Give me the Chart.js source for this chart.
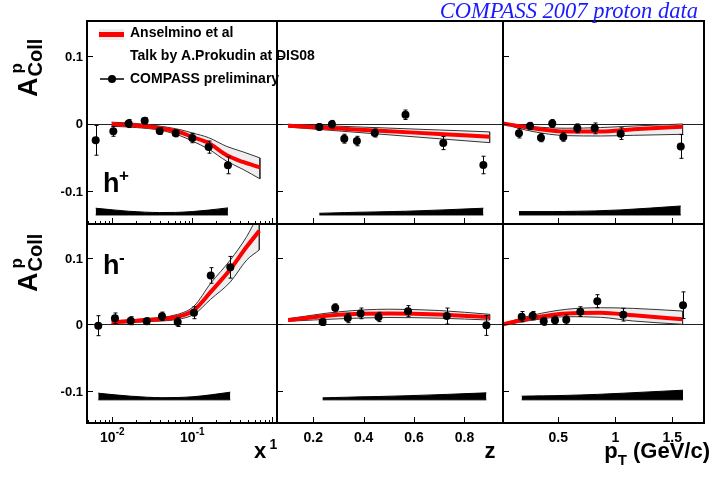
<!DOCTYPE html>
<html>
<head>
<meta charset="utf-8">
<script src="https://cdn.jsdelivr.net/npm/chart.js@4.4.0/dist/chart.umd.min.js"></script>
<style>
  html, body { margin: 0; padding: 0; background: #fff; }
  #wrap { position: relative; width: 712px; height: 493px; overflow: hidden; }
  #wrap canvas { position: absolute; left: 0; top: 0; }
</style>
</head>
<body>
<div id="wrap"></div>
<script>
// ---------- x dependence ----------
const xPlusX   = [0.0062, 0.0103, 0.016, 0.0254, 0.0391, 0.062, 0.100, 0.160, 0.279];
const xPlusA   = [-0.025, -0.0116, 0.000, 0.004, -0.011, -0.0146, -0.0215, -0.035, -0.062];
const xPlusErr = [0.022, 0.0073, 0.006, 0.005, 0.005, 0.005, 0.007, 0.009, 0.0125];
const xPlusSys = [0.010, 0.0075, 0.0055, 0.0042, 0.0036, 0.0038, 0.005, 0.0072, 0.0105];

const xMinusX   = [0.00668, 0.0108, 0.017, 0.0269, 0.0418, 0.0657, 0.105, 0.170, 0.2985];
const xMinusA   = [-0.0018, 0.0093, 0.0057, 0.005, 0.0123, 0.0037, 0.0177, 0.0737, 0.086];
const xMinusErr = [0.015, 0.008, 0.006, 0.005, 0.0063, 0.0067, 0.009, 0.0117, 0.0163];
const xMinusSys = [0.010, 0.0075, 0.0055, 0.004, 0.0032, 0.0035, 0.0048, 0.0075, 0.0115];

// theory (Anselmino et al) vs x
const thXPlusX  = [0.0098, 0.02, 0.04, 0.07, 0.10, 0.16, 0.27, 0.43, 0.70];
const thXPlusC  = [-0.001, -0.003, -0.007, -0.013, -0.020, -0.029, -0.047, -0.057, -0.065];
const thXPlusUp = [0.002, 0.000, -0.004, -0.009, -0.014, -0.021, -0.034, -0.042, -0.051];
const thXPlusLo = [-0.004, -0.006, -0.010, -0.018, -0.026, -0.038, -0.056, -0.068, -0.082];

const thXMinusX  = [0.0098, 0.027, 0.0657, 0.105, 0.170, 0.299, 0.478, 0.688];
const thXMinusC  = [0.0033, 0.0067, 0.0117, 0.0217, 0.049, 0.083, 0.1167, 0.1407];
const thXMinusUp = [0.0053, 0.0087, 0.0153, 0.0277, 0.062, 0.097, 0.132, 0.168];
const thXMinusLo = [0.0015, 0.0042, 0.0078, 0.0153, 0.038, 0.064, 0.0967, 0.112];

// ---------- z dependence ----------
const zPlusZ   = [0.224, 0.274, 0.323, 0.373, 0.444, 0.566, 0.716, 0.875];
const zPlusA   = [-0.005, -0.001, -0.0225, -0.026, -0.014, 0.013, -0.029, -0.0615];
const zPlusErr = [0.0046, 0.0056, 0.0066, 0.007, 0.006, 0.007, 0.0097, 0.013];
const zPlusSys = [0.0025, 0.003, 0.0035, 0.004, 0.0045, 0.0055, 0.0075, 0.010];

const zMinusZ   = [0.237, 0.287, 0.337, 0.388, 0.459, 0.576, 0.730, 0.887];
const zMinusA   = [0.0037, 0.025, 0.0097, 0.0167, 0.0113, 0.020, 0.0127, -0.0013];
const zMinusErr = [0.005, 0.006, 0.007, 0.008, 0.007, 0.0083, 0.012, 0.015];
const zMinusSys = [0.003, 0.0035, 0.004, 0.0045, 0.005, 0.0062, 0.0082, 0.0105];

const thZPlusZ  = [0.10, 0.30, 0.50, 0.70, 0.90];
const thZPlusC  = [-0.0033, -0.0074, -0.0115, -0.0155, -0.0196];
const thZPlusUp = [-0.0012, -0.0040, -0.0068, -0.0096, -0.0124];
const thZPlusLo = [-0.0052, -0.0110, -0.0168, -0.0226, -0.0284];

const thZMinusZ  = [0.10, 0.30, 0.50, 0.70, 0.90];
const thZMinusC  = [0.0067, 0.0145, 0.0165, 0.0150, 0.0108];
const thZMinusUp = [0.0087, 0.019, 0.023, 0.021, 0.0153];
const thZMinusLo = [0.0048, 0.0085, 0.0105, 0.0095, 0.0067];

// ---------- pT dependence ----------
const ptPlusPt  = [0.155, 0.252, 0.348, 0.447, 0.544, 0.667, 0.819, 1.047, 1.574];
const ptPlusA   = [-0.0146, -0.0037, -0.021, 0.000, -0.020, -0.0072, -0.0072, -0.015, -0.034];
const ptPlusErr = [0.0068, 0.0054, 0.006, 0.0058, 0.0063, 0.0066, 0.008, 0.0086, 0.0176];
const ptPlusSys = [0.005, 0.005, 0.005, 0.005, 0.0052, 0.0055, 0.006, 0.0075, 0.0133];

const ptMinusPt  = [0.179, 0.275, 0.372, 0.471, 0.570, 0.693, 0.842, 1.07, 1.594];
const ptMinusA   = [0.0117, 0.0133, 0.0048, 0.0063, 0.0073, 0.0193, 0.035, 0.0147, 0.029];
const ptMinusErr = [0.0078, 0.0063, 0.006, 0.0063, 0.007, 0.0073, 0.0098, 0.0095, 0.020];
const ptMinusSys = [0.0055, 0.0058, 0.006, 0.0063, 0.0067, 0.0073, 0.0082, 0.0100, 0.0145];

const thPtPlusPt = [0.015, 0.28, 0.57, 0.87, 1.16, 1.59];
const thPtPlusC  = [0.000, -0.007, -0.012, -0.012, -0.0086, -0.0047];
const thPtPlusUp = [0.001, -0.0047, -0.007, -0.006, -0.0037, -0.0007];
const thPtPlusLo = [-0.001, -0.012, -0.018, -0.0185, -0.0175, -0.016];

const thPtMinusPt = [0.015, 0.28, 0.57, 0.87, 1.16, 1.59];
const thPtMinusC  = [0.0003, 0.0102, 0.0167, 0.0177, 0.0138, 0.0078];
const thPtMinusUp = [0.0013, 0.0142, 0.0228, 0.0252, 0.0242, 0.0202];
const thPtMinusLo = [-0.0007, 0.0067, 0.0117, 0.0108, 0.0052, 0.0003];

// ---------- ticks ----------
const yTicks = [-0.1, 0, 0.1];
const yTickLabels = ['-0.1', '0', '0.1'];
const xMajorTicks = [0.01, 0.1, 1];
const xMinorTicks = [0.005, 0.006, 0.007, 0.008, 0.009, 0.02, 0.03, 0.04, 0.05, 0.06, 0.07, 0.08, 0.09,
                     0.2, 0.3, 0.4, 0.5, 0.6, 0.7, 0.8, 0.9];
const xTickLabels = [['10', '-2'], ['10', '-1'], ['1', '']];
const zTicks = [0.2, 0.4, 0.6, 0.8];
const zTickLabels = ['0.2', '0.4', '0.6', '0.8'];
const ptTicks = [0.5, 1, 1.5];
const ptTickLabels = ['0.5', '1', '1.5'];

const FONT = "'Liberation Sans', Arial, sans-serif";

const colL = [87, 277, 503], colR = [277, 503, 704];
const rowT = [21, 224], rowB = [224, 423];

function pts(xs, ys) { return xs.map((v, i) => ({ x: v, y: ys[i] })); }

// error bars drawn under the markers
const errorBarPlugin = {
  id: 'errorBars',
  beforeDatasetDraw(chart, args) {
    const ds = chart.data.datasets[args.index];
    if (!ds.errors) return;
    const ctx = chart.ctx, ys = chart.scales.y, a = chart.chartArea;
    ctx.save();
    ctx.beginPath(); ctx.rect(a.left, a.top, a.right - a.left, a.bottom - a.top); ctx.clip();
    ctx.strokeStyle = '#000'; ctx.lineWidth = 1;
    args.meta.data.forEach((pt, j) => {
      const v = ds.data[j].y, e = ds.errors[j];
      const x = Math.round(pt.x) + 0.5;
      const y1 = ys.getPixelForValue(v + e), y2 = ys.getPixelForValue(v - e);
      ctx.beginPath();
      ctx.moveTo(x, y1); ctx.lineTo(x, y2);
      ctx.moveTo(x - 2, y1); ctx.lineTo(x + 2, y1);
      ctx.moveTo(x - 2, y2); ctx.lineTo(x + 2, y2);
      ctx.stroke();
    });
    ctx.restore();
  }
};

function axisPlugin(p) {
  return {
    id: 'rootAxes',
    beforeDatasetsDraw(chart) {
      const ctx = chart.ctx, a = chart.chartArea;
      const y0 = Math.round(chart.scales.y.getPixelForValue(0)) + 0.5;
      ctx.save();
      ctx.strokeStyle = '#222'; ctx.lineWidth = 1;
      ctx.beginPath(); ctx.moveTo(a.left, y0); ctx.lineTo(a.right, y0); ctx.stroke();
      ctx.restore();
    },
    afterDraw(chart) {
      const ctx = chart.ctx, a = chart.chartArea;
      const xs = chart.scales.x, ys = chart.scales.y;
      ctx.save();
      ctx.strokeStyle = '#000'; ctx.fillStyle = '#000';
      ctx.lineWidth = 2;
      ctx.strokeRect(a.left, a.top, a.right - a.left, a.bottom - a.top);
      ctx.lineWidth = 1;
      ctx.beginPath();
      yTicks.forEach(v => {
        const y = Math.round(ys.getPixelForValue(v)) + 0.5;
        ctx.moveTo(a.left, y); ctx.lineTo(a.left + 6, y);
      });
      p.major.forEach(v => {
        const x = Math.round(xs.getPixelForValue(v)) + 0.5;
        if (x < a.left + 1 || x > a.right - 1) return;
        ctx.moveTo(x, a.bottom); ctx.lineTo(x, a.bottom - 6);
      });
      (p.minor || []).forEach(v => {
        const x = Math.round(xs.getPixelForValue(v)) + 0.5;
        ctx.moveTo(x, a.bottom); ctx.lineTo(x, a.bottom - 3);
      });
      ctx.stroke();

      if (p.col === 0) {
        ctx.font = 'bold 13px ' + FONT;
        ctx.textAlign = 'right'; ctx.textBaseline = 'middle';
        yTicks.forEach((v, i) => ctx.fillText(yTickLabels[i], a.left - 4, ys.getPixelForValue(v) + 1));
      }
      if (p.row === 1) {
        ctx.textBaseline = 'alphabetic';
        p.major.forEach((v, i) => {
          const x = xs.getPixelForValue(v);
          const lab = p.labels[i];
          if (Array.isArray(lab)) {
            ctx.font = 'bold 14px ' + FONT;
            const w1 = ctx.measureText(lab[0]).width;
            ctx.font = 'bold 10px ' + FONT;
            const w2 = ctx.measureText(lab[1]).width;
            const x0 = x - (w1 + w2) / 2;
            ctx.textAlign = 'left';
            if (lab[1] === '') {
              ctx.font = 'bold 14px ' + FONT;
              ctx.fillText(lab[0], x0 + 1, 449);
            } else {
              ctx.font = 'bold 14px ' + FONT;
              ctx.fillText(lab[0], x0, 442);
              ctx.font = 'bold 10px ' + FONT;
              ctx.fillText(lab[1], x0 + w1, 435);
            }
          } else {
            ctx.font = 'bold 14px ' + FONT; ctx.textAlign = 'center';
            ctx.fillText(lab, x, 442);
          }
        });
      }
      // charge label
      ctx.textAlign = 'left'; ctx.textBaseline = 'alphabetic';
      if (p.col === 0) {
        const by = p.row === 0 ? 192 : 274;
        ctx.font = 'bold 27px ' + FONT;
        ctx.fillText('h', 103, by);
        ctx.font = 'bold 17px ' + FONT;
        ctx.fillText(p.row === 0 ? '+' : '-', 119, by - 11);
      }
      ctx.restore();
    }
  };
}

function drawATitle(ctx, bx, by) {
  ctx.save();
  ctx.translate(bx, by); ctx.rotate(-Math.PI / 2);
  ctx.fillStyle = '#000'; ctx.textAlign = 'left'; ctx.textBaseline = 'alphabetic';
  ctx.font = 'bold 27px ' + FONT; ctx.fillText('A', 0, 0);
  const w = ctx.measureText('A').width + 1;
  ctx.font = 'bold 17px ' + FONT; ctx.fillText('p', w + 3, -15);
  ctx.font = 'bold 20px ' + FONT; ctx.fillText('Coll', w, 5);
  ctx.restore();
}

const globalText = {
  id: 'globalText',
  afterDraw(chart) {
    const ctx = chart.ctx;
    ctx.save();
    // title
    ctx.font = "italic 22.5px 'Liberation Serif', 'Times New Roman', serif";
    ctx.fillStyle = '#1a1aff'; ctx.textAlign = 'right'; ctx.textBaseline = 'alphabetic';
    ctx.fillText('COMPASS 2007 proton data', 698, 18);

    // legend
    ctx.fillStyle = '#eeeeee'; ctx.fillRect(99, 29, 25, 11);
    ctx.strokeStyle = '#ff0000'; ctx.lineWidth = 5;
    ctx.beginPath(); ctx.moveTo(99, 34.5); ctx.lineTo(124, 34.5); ctx.stroke();
    ctx.strokeStyle = '#000'; ctx.lineWidth = 1.5;
    ctx.beginPath(); ctx.moveTo(100, 79); ctx.lineTo(124, 79); ctx.stroke();
    ctx.fillStyle = '#000';
    ctx.beginPath(); ctx.arc(112, 79, 4, 0, Math.PI * 2); ctx.fill();
    ctx.font = 'bold 14px ' + FONT; ctx.textAlign = 'left'; ctx.textBaseline = 'middle';
    ctx.fillText('Anselmino et al', 130, 33);
    ctx.fillText('Talk by A.Prokudin at DIS08', 130, 56);
    ctx.fillText('COMPASS preliminary', 130, 79);

    // y titles
    drawATitle(ctx, 37, 97);
    drawATitle(ctx, 37, 292);

    // x titles
    ctx.textBaseline = 'alphabetic'; ctx.textAlign = 'center';
    ctx.font = 'bold 22px ' + FONT;
    ctx.fillText('x', 260, 458);
    ctx.fillText('z', 490, 458);
    ctx.textAlign = 'left';
    const wGev = ctx.measureText(' (GeV/c)').width;
    ctx.font = 'bold 15px ' + FONT;
    const wT = ctx.measureText('T').width;
    ctx.font = 'bold 22px ' + FONT;
    const wp = ctx.measureText('p').width;
    const x0 = 710 - wGev - wT - wp;
    ctx.fillText('p', x0, 458);
    ctx.fillText(' (GeV/c)', x0 + wp + wT, 458);
    ctx.font = 'bold 15px ' + FONT;
    ctx.fillText('T', x0 + wp, 465);
    ctx.restore();
  }
};

function makePanel(p, extraPlugins) {
  const cv = document.createElement('canvas');
  cv.width = 712; cv.height = 493;
  document.getElementById('wrap').appendChild(cv);
  const last = p.thX.length - 1;
  const datasets = [
    // data points
    { data: pts(p.x, p.y), errors: p.err, showLine: false, pointRadius: 4, pointHoverRadius: 4,
      pointBackgroundColor: '#000', pointBorderWidth: 0, order: 0 },
    // central theory curve
    { data: pts(p.thX, p.thC), borderColor: '#ff0000', borderWidth: 4, pointRadius: 0,
      cubicInterpolationMode: 'monotone', fill: false, order: 1 },
    // band upper edge
    { data: pts(p.thX, p.thUp), borderColor: '#333', borderWidth: 1, pointRadius: 0,
      cubicInterpolationMode: 'monotone', fill: false, order: 2 },
    // band lower edge, filled to upper edge
    { data: pts(p.thX, p.thLo), borderColor: '#333', borderWidth: 1, pointRadius: 0,
      cubicInterpolationMode: 'monotone', fill: '-1', backgroundColor: '#eeeeee', order: 3 },
    // band closing edge
    { data: [{ x: p.thX[last], y: p.thUp[last] }, { x: p.thX[last], y: p.thLo[last] }],
      borderColor: '#333', borderWidth: 1, pointRadius: 0, tension: 0, fill: false, order: 2 },
    // systematic band baseline
    { data: p.x.map(v => ({ x: v, y: p.sysBase })), borderColor: '#000', borderWidth: 1,
      pointRadius: 0, fill: false, order: 5 },
    // systematic band top
    { data: p.x.map((v, i) => ({ x: v, y: p.sysBase + p.sys[i] })), borderColor: '#000', borderWidth: 1,
      pointRadius: 0, cubicInterpolationMode: 'monotone', fill: '-1', backgroundColor: '#000', order: 4 }
  ];
  return new Chart(cv.getContext('2d'), {
    type: 'line',
    data: { datasets },
    options: {
      responsive: false,
      animation: false,
      events: [],
      layout: { padding: { left: colL[p.col], right: 712 - colR[p.col], top: rowT[p.row], bottom: 493 - rowB[p.row] } },
      plugins: { legend: { display: false }, tooltip: { enabled: false }, title: { display: false } },
      scales: {
        x: { type: p.xType, min: p.xMin, max: p.xMax, display: false },
        y: { type: 'linear', min: p.yMin, max: p.yMax, display: false }
      }
    },
    plugins: [errorBarPlugin, axisPlugin(p)].concat(extraPlugins || [])
  });
}

const yTop = { yMin: -0.149, yMax: 0.152, sysBase: -0.1356 };
const yBot = { yMin: -0.148, yMax: 0.151, sysBase: -0.1132 };
const xAxis  = { xType: 'logarithmic', xMin: 0.00483, xMax: 1.145, major: xMajorTicks, minor: xMinorTicks, labels: xTickLabels };
const zAxis  = { xType: 'linear', xMin: 0.056, xMax: 0.953, major: zTicks, labels: zTickLabels };
const ptAxis = { xType: 'linear', xMin: 0.015, xMax: 1.778, major: ptTicks, labels: ptTickLabels };

makePanel(Object.assign({ col: 0, row: 0, x: xPlusX, y: xPlusA, err: xPlusErr, sys: xPlusSys,
  thX: thXPlusX, thC: thXPlusC, thUp: thXPlusUp, thLo: thXPlusLo }, xAxis, yTop));
makePanel(Object.assign({ col: 1, row: 0, x: zPlusZ, y: zPlusA, err: zPlusErr, sys: zPlusSys,
  thX: thZPlusZ, thC: thZPlusC, thUp: thZPlusUp, thLo: thZPlusLo }, zAxis, yTop));
makePanel(Object.assign({ col: 2, row: 0, x: ptPlusPt, y: ptPlusA, err: ptPlusErr, sys: ptPlusSys,
  thX: thPtPlusPt, thC: thPtPlusC, thUp: thPtPlusUp, thLo: thPtPlusLo }, ptAxis, yTop));
makePanel(Object.assign({ col: 0, row: 1, x: xMinusX, y: xMinusA, err: xMinusErr, sys: xMinusSys,
  thX: thXMinusX, thC: thXMinusC, thUp: thXMinusUp, thLo: thXMinusLo }, xAxis, yBot));
makePanel(Object.assign({ col: 1, row: 1, x: zMinusZ, y: zMinusA, err: zMinusErr, sys: zMinusSys,
  thX: thZMinusZ, thC: thZMinusC, thUp: thZMinusUp, thLo: thZMinusLo }, zAxis, yBot));
makePanel(Object.assign({ col: 2, row: 1, x: ptMinusPt, y: ptMinusA, err: ptMinusErr, sys: ptMinusSys,
  thX: thPtMinusPt, thC: thPtMinusC, thUp: thPtMinusUp, thLo: thPtMinusLo }, ptAxis, yBot), [globalText]);
</script>
</body>
</html>
